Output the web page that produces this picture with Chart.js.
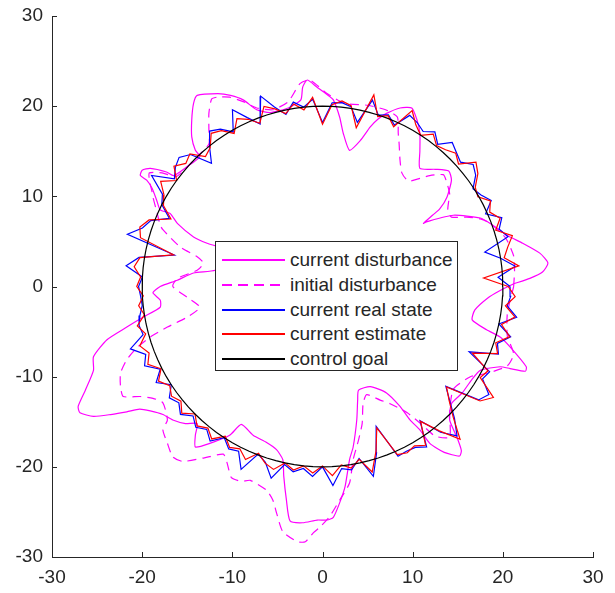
<!DOCTYPE html>
<html>
<head>
<meta charset="utf-8">
<script src="https://cdn.jsdelivr.net/npm/chart.js@4.4.1/dist/chart.umd.min.js"></script>
<style>
  body { margin: 0; background: #fff; }
  #wrap { position: relative; width: 615px; height: 593px; }
  #legend {
    position: absolute; left: 215px; top: 241px; width: 241px; height: 128px;
    border: 1px solid #262626; background: #fff;
    font-family: Arial, "Liberation Sans", sans-serif; font-size: 19px; color: #262626;
  }
  .lg-row { position: absolute; left: 0; height: 24px; width: 100%; }
  .lg-line { position: absolute; left: 6px; top: 11px; width: 63px; height: 1.5px; }
  .lg-text { position: absolute; left: 74px; top: 0; line-height: 24px; white-space: nowrap; }
</style>
</head>
<body>
<div id="wrap">
  <canvas id="c"></canvas>
  <div id="legend"></div>
</div>
<script>
// ── Werte aus dem Bild (Datenkoordinaten) ──
const tickValues = [-30, -20, -10, 0, 10, 20, 30];

// Winkel (Grad) für Zustand / Schätzung / Ziel
const theta = [0,3,6,9,12,15,18,21,24,27,30,33,36,39,42,45,48,51,54,57,
  60,63,66,69,72,75,78,81,84,87,90,93,96,99,102,105,108,111,114,117,
  120,123,126,129,132,135,138,141,144,147,150,153,156,159,162,165,168,171,174,177,
  180,183,186,189,192,195,198,201,204,207,210,213,216,219,222,225,228,231,234,237,
  240,243,246,249,252,255,258,261,264,267,270,273,276,279,282,285,288,291,294,297,
  300,303,306,309,312,315,318,321,324,327,330,333,336,339,342,345,348,351,354,357];

const estimateR = [20.6,17.9,21.9,20.4,21.0,21.8,20.2,21.1,20.3,20.9,19.9,20.2,21.3,21.9,20.3,20.9,20.4,20.1,20.9,20.0,
  20.7,21.9,19.4,20.3,19.8,22.0,18.0,20.3,20.7,20.2,18.0,21.0,19.7,20.5,19.6,20.4,21.0,19.4,20.3,20.9,
  19.6,20.6,21.0,19.8,19.4,20.8,20.4,21.2,20.0,21.4,20.3,19.8,18.4,20.6,21.3,20.9,16.9,20.5,21.0,20.2,
  20.6,19.9,20.5,20.0,21.0,20.3,21.3,20.6,21.2,20.1,21.0,20.2,20.7,20.2,21.0,20.0,20.8,20.2,20.9,19.8,
  20.6,20.2,21.0,19.8,20.6,21.0,20.0,20.6,20.0,20.7,19.9,21.0,19.9,20.4,19.6,21.3,19.2,16.8,20.4,20.7,
  20.4,21.0,18.5,20.6,22.8,20.5,18.9,17.7,21.6,22.6,20.2,20.6,18.2,20.8,20.2,21.5,20.3,21.6,20.4,21.4];

const realR = [20.8,19.5,21.5,20.0,18.4,21.3,20.6,21.3,19.8,21.0,20.3,19.9,21.0,21.5,20.6,21.0,21.5,20.3,21.2,20.5,
  21.0,21.3,19.6,20.4,20.0,21.4,18.6,20.2,20.5,20.4,18.2,20.8,20.0,20.7,19.5,20.6,22.2,19.3,20.5,22.0,
  19.8,20.8,21.3,19.9,18.4,20.7,21.4,21.0,20.3,22.6,20.5,20.0,18.6,20.4,21.0,22.4,16.8,20.6,21.9,20.0,
  20.4,20.2,20.1,20.5,20.8,20.6,22.4,21.0,21.6,20.2,21.3,20.0,21.0,20.5,21.2,20.3,21.0,20.4,21.2,20.0,
  20.8,20.5,22.2,19.9,20.5,22.0,20.2,20.8,20.3,21.1,20.0,22.1,20.3,20.6,19.5,21.8,19.4,16.6,20.6,20.5,
  20.6,21.2,18.4,20.8,22.3,20.7,19.0,17.6,21.4,22.0,20.5,20.8,17.8,20.9,20.4,21.6,20.0,21.8,20.6,20.9];

const goalRadius = 20;

// aktuelle Störung (Kurvenpunkte)
const curDistX = [21.2,23.0,24.4,25.0,24.1,22.2,20.6,18.6,17.5,14.5,11.6,11.2,12.2,13.0,13.8,14.3,14.0,12.5,10.8,10.8,
  10.8,10.5,9.9,8.6,7.1,6.2,5.3,4.2,3.0,2.3,1.9,1.2,0.5,-0.6,-1.7,-2.2,-2.4,-3.8,-5.8,-7.3,
  -8.8,-10.2,-11.6,-13.9,-14.3,-14.5,-14.5,-14.1,-13.6,-15.0,-16.5,-17.3,-19.1,-20.0,-20.2,-19.5,-18.9,-18.4,-18.0,-16.9,
  -16.1,-14.3,-12.8,-11.0,-10.0,-11.9,-14.3,-16.1,-18.0,-18.8,-18.0,-18.0,-19.9,-21.7,-23.9,-25.4,-25.4,-26.3,-27.1,-26.9,
  -25.4,-23.5,-21.7,-20.3,-19.1,-17.7,-16.6,-15.2,-13.9,-14.1,-14.1,-12.5,-10.3,-9.0,-7.7,-6.2,-5.1,-4.4,-4.3,-4.0,
  -3.6,-2.2,-0.6,0.5,1.2,1.9,2.5,3.0,3.4,3.8,3.9,4.0,5.3,7.1,8.6,9.7,10.8,11.9,13.5,15.2,
  15.4,14.9,14.1,14.3,15.5,16.5,17.5,19.7,20.8,22.5,22.6,20.8,19.7,18.2,16.6,16.9,18.3,19.6,21.2];
const curDistY = [0.3,0.9,1.6,2.6,3.7,4.8,5.6,7.0,7.6,7.9,7.2,7.0,7.9,8.6,9.9,11.8,12.8,13.0,13.1,15.0,
  17.0,18.4,19.8,19.8,19.2,18.6,17.7,16.2,15.1,17.0,18.8,20.7,21.3,22.1,22.9,22.1,20.7,19.8,19.3,19.6,
  20.7,21.2,21.4,21.2,20.3,18.5,16.6,15.1,14.4,13.3,12.3,12.7,13.1,12.9,12.3,11.8,10.9,9.6,8.5,8.1,
  7.0,5.5,4.8,4.2,3.0,1.8,1.5,0.7,0.0,-0.7,-1.5,-2.3,-3.4,-4.5,-5.9,-7.8,-9.3,-11.5,-13.3,-14.0,
  -14.4,-14.2,-13.9,-13.6,-13.8,-14.2,-14.8,-15.2,-15.2,-16.5,-17.8,-17.4,-16.5,-15.3,-16.5,-17.3,-18.1,-19.2,-21.0,-23.7,
  -26.0,-26.2,-25.9,-25.9,-25.6,-24.0,-22.2,-19.2,-17.8,-14.8,-12.6,-11.5,-11.1,-11.8,-13.3,-14.8,-15.9,-17.4,-18.4,-18.8,
  -18.2,-16.7,-14.8,-13.0,-11.8,-10.4,-9.3,-8.9,-9.1,-9.4,-8.9,-6.7,-5.6,-4.8,-3.7,-2.6,-1.3,-0.5,0.3];

// anfängliche Störung (Kurvenpunkte)
const initDistX = [21.2,21.3,21.2,20.3,18.6,17.5,16.0,14.3,13.9,14.0,14.1,13.7,13.4,11.9,10.5,9.5,8.8,8.6,8.5,8.4,
  8.3,7.0,5.0,2.5,0.5,-1.4,-2.5,-3.8,-5.5,-7.3,-8.8,-10.3,-11.7,-12.3,-12.6,-12.6,-12.6,-14.0,-16.2,-17.8,
  -19.2,-19.2,-18.9,-18.8,-18.3,-18.0,-17.7,-15.8,-13.9,-13.2,-13.9,-16.1,-16.6,-15.0,-13.6,-15.0,-17.2,-19.1,-20.6,-21.7,
  -22.4,-22.4,-22.1,-20.2,-18.8,-17.7,-17.2,-17.7,-17.2,-16.6,-15.5,-13.1,-11.0,-10.6,-10.1,-9.0,-8.0,-6.2,-5.5,-5.1,
  -4.4,-2.8,-1.9,-1.0,-0.3,0.8,1.9,3.0,3.4,4.0,4.4,4.5,4.9,6.4,7.5,9.4,11.0,12.5,14.1,14.1,
  14.5,16.4,17.5,19.0,20.5,21.2,20.5,20.5,21.2];
const initDistY = [0.0,1.8,3.4,5.4,7.0,7.5,7.7,7.7,8.5,9.5,10.3,11.8,12.4,12.3,11.9,11.7,12.6,14.0,15.8,17.0,
  18.8,19.6,20.1,20.3,21.4,22.9,22.5,20.5,19.6,19.8,20.5,21.0,21.0,20.8,19.2,17.4,15.8,14.3,12.2,12.6,
  12.6,11.8,10.5,9.9,8.0,6.8,6.3,4.4,3.3,2.6,1.8,0.9,0.0,-1.2,-2.3,-3.4,-4.5,-5.6,-6.8,-8.1,
  -9.6,-11.1,-12.2,-12.2,-12.4,-12.9,-14.8,-15.9,-17.4,-18.9,-19.4,-19.0,-18.6,-19.5,-21.2,-21.6,-21.5,-22.6,-23.7,-25.1,
  -27.2,-28.3,-28.3,-27.3,-26.7,-25.5,-23.7,-21.8,-19.2,-17.0,-15.2,-13.0,-12.0,-12.6,-13.0,-14.0,-15.3,-16.6,-16.7,-14.0,
  -11.4,-10.0,-9.8,-9.4,-8.8,-7.5,-5.5,-3.0,0.0];

// ── Aufbereitung ──
const polar = (a, r) => ({ x: r * Math.cos(a * Math.PI / 180), y: r * Math.sin(a * Math.PI / 180) });
const closed = (pts) => pts.concat([pts[0]]);
const xy = (xs, ys) => xs.map((x, i) => ({ x, y: ys[i] }));

// Legendeneinträge (Farbe / gestrichelt)
const series = [
  { label: "current disturbance", color: "#ff00ff", dashed: false },
  { label: "initial disturbance", color: "#ff00ff", dashed: true },
  { label: "current real state", color: "#0000ff", dashed: false },
  { label: "current estimate", color: "#ff0000", dashed: false },
  { label: "control goal", color: "#000000", dashed: false },
];

const points = [
  xy(curDistX, curDistY),
  xy(initDistX, initDistY),
  closed(theta.map((a, i) => polar(a, realR[i]))),
  closed(theta.map((a, i) => polar(a, estimateR[i]))),
  closed(theta.map((a) => polar(a, goalRadius))),
];

const datasets = series.map((s, i) => ({
  label: s.label,
  data: points[i],
  borderColor: s.color,
  borderDash: s.dashed ? [9, 6] : [],
  tension: i < 2 ? 0.2 : 0,
  order: 4 - i,
  showLine: true,
  pointRadius: 0,
  borderWidth: 1.2,
  fill: false,
}));

// nach innen zeigende Ticks wie in MATLAB
const innerTicks = {
  id: "innerTicks",
  afterDraw(chart) {
    const { ctx, chartArea: a, scales } = chart;
    ctx.save();
    ctx.strokeStyle = "#262626";
    ctx.lineWidth = 1;
    ctx.beginPath();
    tickValues.forEach((v) => {
      const px = Math.round(scales.x.getPixelForValue(v)) + 0.5;
      ctx.moveTo(px, a.bottom);
      ctx.lineTo(px, a.bottom - 5);
      const py = Math.round(scales.y.getPixelForValue(v)) + 0.5;
      ctx.moveTo(a.left, py);
      ctx.lineTo(a.left + 5, py);
    });
    ctx.stroke();
    ctx.restore();
  },
};

const font = { family: "Arial, 'Liberation Sans', sans-serif", size: 19 };
const axis = (fit) => ({
  type: "linear",
  min: -30,
  max: 30,
  afterBuildTicks: (s) => { s.ticks = tickValues.map((v) => ({ value: v })); },
  afterFit: fit,
  grid: { display: false, drawTicks: false },
  border: { display: true, color: "#262626", width: 1 },
  ticks: { color: "#262626", font, padding: 9 },
});

new Chart(document.getElementById("c"), {
  type: "scatter",
  data: { datasets },
  options: {
    responsive: true,
    maintainAspectRatio: false,
    animation: false,
    layout: { padding: { top: 16, right: 22, left: 0, bottom: 0 } },
    plugins: { legend: { display: false }, tooltip: { enabled: false } },
    scales: {
      x: axis((s) => { s.height = 36; s.paddingLeft = 0; s.paddingRight = 0; }),
      y: axis((s) => { s.width = 52; s.paddingTop = 0; s.paddingBottom = 0; }),
    },
  },
  plugins: [innerTicks],
});

// Legende (HTML, deckend weiß wie im Original)
const lg = document.getElementById("legend");
lg.innerHTML = series
  .map((s, i) => {
    const bg = s.dashed
      ? `repeating-linear-gradient(to right, ${s.color} 0 10px, transparent 10px 16px)`
      : s.color;
    return `<div class="lg-row" style="top:${Math.round(6 + i * 24.8)}px">
      <div class="lg-line" style="background:${bg}"></div>
      <div class="lg-text">${s.label}</div>
    </div>`;
  })
  .join("");
</script>
</body>
</html>
